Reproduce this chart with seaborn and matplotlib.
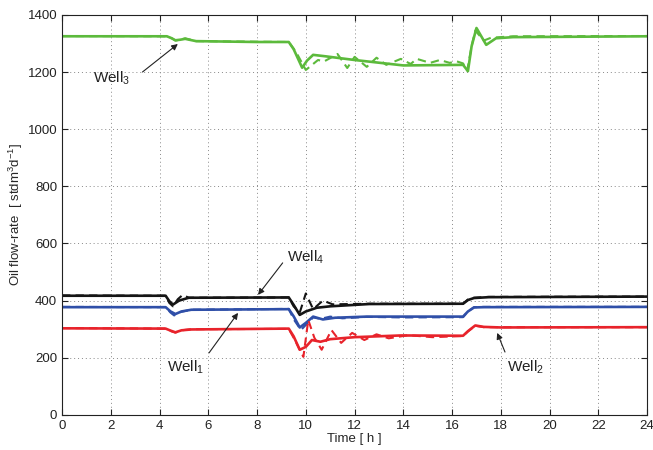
import numpy as np
import pandas as pd
import matplotlib
matplotlib.use("Agg")
import matplotlib.pyplot as plt
import seaborn as sns

# ---- Oil flow-rate per well [stdm^3/d] vs time [h] ----
# solid = model, dashed = measured

# Well 1 (blue)
w1_t = [0, 4.25, 4.45, 4.65, 4.9, 5.3, 9.3, 9.5, 9.75, 10.0, 10.3, 10.7, 11.2, 12.5, 16.45, 16.65, 16.9, 17.3, 24]
w1_model = [377, 377, 362, 353, 362, 368, 370, 345, 306, 322, 344, 334, 340, 344, 344, 362, 376, 377, 378]
w1_meas_t = [0, 4.25, 4.45, 4.6, 4.85, 5.3, 9.3, 9.5, 9.8, 10.0, 10.3, 10.6, 11.0, 11.5, 12.5, 14, 16.45, 16.65, 16.9, 17.3, 24]
w1_meas = [378, 377, 358, 348, 360, 368, 371, 335, 297, 315, 341, 336, 344, 338, 343, 341, 342, 362, 377, 378, 378]

# Well 2 (red)
w2_t = [0, 4.25, 4.45, 4.65, 4.9, 5.3, 9.3, 9.5, 9.75, 10.0, 10.25, 10.6, 11.0, 12.0, 13.9, 16.45, 16.65, 16.95, 17.3, 18, 24]
w2_model = [303, 302, 295, 289, 296, 299, 302, 275, 228, 238, 262, 256, 265, 272, 278, 277, 293, 313, 308, 306, 307]
w2_meas_t = [0, 4.25, 4.5, 4.65, 4.9, 5.3, 9.3, 9.55, 9.9, 10.1, 10.35, 10.65, 11.05, 11.45, 11.9, 12.4, 12.9, 13.4, 14.2, 15.2, 16.45, 16.65, 16.95, 17.3, 24]
w2_meas = [304, 302, 292, 288, 296, 300, 301, 262, 203, 332, 270, 228, 297, 252, 287, 262, 282, 268, 279, 272, 276, 292, 312, 307, 307]

# Well 3 (green)
w3_t = [0, 4.3, 4.5, 4.65, 4.85, 5.05, 5.5, 8.0, 9.3, 9.5, 9.85, 10.05, 10.3, 10.8, 12.0, 14.0, 16.45, 16.65, 16.8, 17.0, 17.4, 17.8, 18.5, 24]
w3_model = [1325, 1325, 1318, 1311, 1313, 1316, 1308, 1305, 1305, 1280, 1215, 1240, 1260, 1255, 1242, 1223, 1225, 1203, 1290, 1354, 1295, 1318, 1322, 1325]
w3_meas_t = [0, 4.3, 4.5, 4.65, 4.85, 5.05, 5.5, 8.0, 9.3, 9.6, 10.0, 10.5, 10.75, 11.3, 11.7, 12.0, 12.5, 12.9, 13.3, 13.9, 14.3, 14.55, 15.1, 15.5, 15.9, 16.2, 16.45, 16.62, 16.8, 16.95, 17.3, 17.6, 18.5, 24]
w3_meas = [1326, 1325, 1318, 1310, 1313, 1318, 1308, 1306, 1305, 1270, 1207, 1242, 1237, 1263, 1214, 1253, 1218, 1250, 1225, 1246, 1228, 1246, 1232, 1242, 1232, 1237, 1230, 1205, 1290, 1345, 1310, 1320, 1325, 1326]

# Well 4 (black)
w4_t = [0, 4.25, 4.4, 4.55, 4.8, 5.2, 9.3, 9.5, 9.75, 10.0, 10.45, 11.0, 12.6, 16.45, 16.65, 16.9, 17.5, 24]
w4_model = [417, 417, 398, 386, 400, 410, 411, 385, 350, 362, 375, 380, 388, 389, 402, 409, 412, 414]
w4_meas_t = [0, 4.25, 4.4, 4.55, 4.75, 4.95, 5.2, 9.3, 9.5, 9.75, 10.0, 10.3, 10.7, 11.1, 12.6, 16.45, 16.65, 16.9, 17.5, 24]
w4_meas = [418, 417, 392, 380, 405, 420, 410, 411, 380, 358, 425, 370, 400, 387, 389, 389, 404, 410, 413, 414]

well_names = ["Well 1", "Well 2", "Well 3", "Well 4"]
well_colors = ["#2f4fa8", "#e8232b", "#5cba3c", "#151515"]

frames = []
for name, (t, m), (tm, d) in zip(
    well_names,
    [(w1_t, w1_model), (w2_t, w2_model), (w3_t, w3_model), (w4_t, w4_model)],
    [(w1_meas_t, w1_meas), (w2_meas_t, w2_meas), (w3_meas_t, w3_meas), (w4_meas_t, w4_meas)],
):
    frames.append(pd.DataFrame({"time": t, "rate": m, "well": name, "kind": "model"}))
    frames.append(pd.DataFrame({"time": tm, "rate": d, "well": name, "kind": "measured"}))
df = pd.concat(frames, ignore_index=True)

sns.set_theme(style="ticks")
plt.rcParams["font.family"] = ["Liberation Sans", "DejaVu Sans"]
plt.rcParams["mathtext.fontset"] = "custom"
plt.rcParams["mathtext.rm"] = "Liberation Sans"
plt.rcParams["mathtext.it"] = "Liberation Sans:italic"

fig = plt.figure(figsize=(6.53, 4.5), dpi=100)
ax = fig.add_axes([0.095, 0.078, 0.896, 0.889])

for kind, lw, dash in [("model", 1.9, None), ("measured", 1.5, (4, 2.5))]:
    sub = df[df["kind"] == kind]
    sns.lineplot(data=sub, x="time", y="rate", hue="well", units="well",
                 estimator=None, palette=dict(zip(well_names, well_colors)),
                 linewidth=lw, ax=ax, legend=False)
    if dash is not None:
        for ln in ax.lines[-4:]:
            ln.set_dashes(dash)

ax.set_xlim(0, 24)
ax.set_ylim(0, 1400)
ax.set_xticks(np.arange(0, 25, 2))
ax.set_yticks(np.arange(0, 1401, 200))
ax.tick_params(direction="in", top=True, right=True, labelsize=9.5, length=4, width=0.8, colors="#222222")
for s in ax.spines.values():
    s.set_linewidth(0.8)
    s.set_color("#222222")
ax.grid(True, linestyle=(0, (1, 3)), color="#888888", linewidth=0.7)
ax.set_axisbelow(True)

ax.set_xlabel("Time [ h ]", fontsize=9.5, labelpad=1)
ax.set_ylabel(r"Oil flow-rate  [ stdm$^3$d$^{-1}$]", fontsize=9.5, labelpad=2)

arrow = dict(arrowstyle="-|>", color="#222222", lw=0.8, mutation_scale=9, shrinkA=0, shrinkB=0)
labels = [
    (r"Well$_3$", (2.05, 1178), (3.3, 1200), (4.75, 1298)),
    (r"Well$_4$", (10.0, 553), (9.05, 532), (8.04, 420)),
    (r"Well$_1$", (5.05, 165), (6.03, 217), (7.22, 357)),
    (r"Well$_2$", (19.0, 168), (18.17, 220), (17.85, 287)),
]
for txt, tpos, start, tip in labels:
    ax.text(*tpos, txt, fontsize=11, ha="center", va="center", color="#222222")
    ax.annotate("", xy=tip, xytext=start, arrowprops=arrow)

fig.savefig("out.png", dpi=100)
